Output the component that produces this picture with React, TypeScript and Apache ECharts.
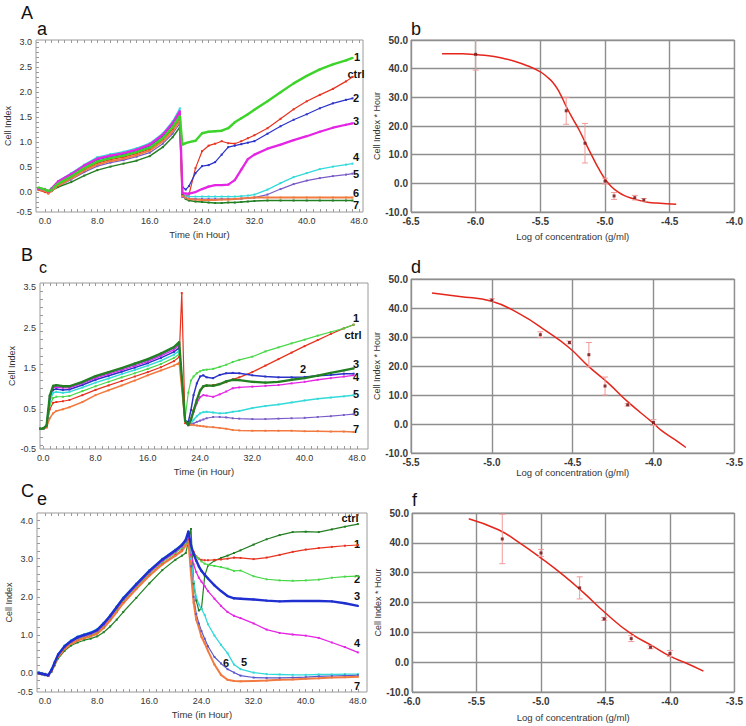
import React, { useEffect, useRef } from "react";
import * as echarts from "echarts";

// ---------- Panel a (A) ----------
const aTime = [-1, 0, 0.5, 1, 2, 4, 6, 8, 10, 12, 14, 16, 18, 19.5, 20.6, 21.0, 21.5, 22, 23, 24, 25, 26, 27, 28, 29, 30, 31, 32, 34, 36, 38, 40, 42, 44, 46, 47];
const aCtrl = [0.04, 0.0, -0.03, 0.03, 0.15, 0.29, 0.45, 0.58, 0.65, 0.70, 0.77, 0.86, 1.05, 1.26, 1.47, -0.05, -0.08, -0.05, 0.48, 0.82, 0.93, 0.97, 1.02, 0.98, 0.97, 1.02, 1.08, 1.14, 1.28, 1.47, 1.66, 1.82, 1.95, 2.07, 2.22, 2.31];
const aS1 = [0.09, 0.05, 0.02, 0.05, 0.17, 0.31, 0.48, 0.61, 0.68, 0.73, 0.80, 0.89, 1.08, 1.30, 1.52, 0.95, 0.98, 1.00, 1.03, 1.18, 1.21, 1.22, 1.23, 1.28, 1.40, 1.48, 1.56, 1.65, 1.82, 2.00, 2.18, 2.33, 2.46, 2.56, 2.64, 2.69];
const aS2 = [0.07, 0.04, 0.0, 0.06, 0.19, 0.34, 0.51, 0.65, 0.71, 0.76, 0.83, 0.92, 1.12, 1.35, 1.58, 0.10, 0.05, 0.12, 0.38, 0.52, 0.54, 0.60, 0.75, 0.90, 0.93, 0.96, 0.99, 1.02, 1.17, 1.32, 1.45, 1.56, 1.68, 1.78, 1.85, 1.88];
const aS3 = [0.07, 0.05, 0.01, 0.07, 0.21, 0.36, 0.53, 0.67, 0.73, 0.78, 0.85, 0.95, 1.15, 1.38, 1.62, -0.02, -0.03, -0.03, 0.0, 0.06, 0.11, 0.14, 0.14, 0.15, 0.24, 0.45, 0.66, 0.75, 0.87, 0.95, 1.04, 1.12, 1.21, 1.29, 1.35, 1.38];
const aS4 = [0.08, 0.06, 0.02, 0.08, 0.22, 0.38, 0.55, 0.70, 0.76, 0.81, 0.88, 0.98, 1.18, 1.42, 1.68, -0.07, -0.08, -0.09, -0.09, -0.09, -0.09, -0.09, -0.09, -0.09, -0.09, -0.08, -0.07, -0.05, 0.05, 0.18, 0.30, 0.38, 0.46, 0.51, 0.55, 0.57];
const aS5 = [0.06, 0.03, 0.0, 0.02, 0.12, 0.25, 0.40, 0.52, 0.59, 0.64, 0.71, 0.79, 0.97, 1.17, 1.38, -0.10, -0.12, -0.13, -0.14, -0.14, -0.14, -0.14, -0.14, -0.14, -0.14, -0.13, -0.12, -0.11, -0.05, 0.06, 0.16, 0.23, 0.28, 0.32, 0.35, 0.37];
const aS6 = [0.05, 0.02, -0.02, 0.02, 0.13, 0.27, 0.43, 0.55, 0.62, 0.67, 0.74, 0.83, 1.02, 1.22, 1.43, -0.08, -0.12, -0.14, -0.15, -0.16, -0.16, -0.16, -0.15, -0.15, -0.14, -0.13, -0.12, -0.11, -0.11, -0.11, -0.11, -0.11, -0.11, -0.11, -0.11, -0.11];
const aS7 = [0.08, 0.06, 0.02, 0.03, 0.10, 0.20, 0.33, 0.44, 0.51, 0.57, 0.63, 0.72, 0.90, 1.10, 1.30, -0.05, -0.14, -0.17, -0.19, -0.20, -0.21, -0.22, -0.22, -0.21, -0.21, -0.20, -0.19, -0.18, -0.17, -0.17, -0.17, -0.17, -0.17, -0.17, -0.17, -0.17];

// ---------- Panel c (B) ----------
const cTime = [-0.5, 0, 0.5, 1, 1.5, 2, 3, 4, 6, 8, 10, 12, 14, 16, 18, 20, 20.8, 21.2, 21.7, 22.2, 22.6, 23, 23.5, 24, 24.5, 25, 26, 27, 28, 29, 30, 32, 34, 36, 38, 40, 42, 44, 46, 47.5];
const cCtrl = [0.0, 0.0, 0.04, 0.48, 0.64, 0.66, 0.68, 0.71, 0.83, 0.96, 1.07, 1.18, 1.29, 1.40, 1.52, 1.67, 1.77, 3.35, 0.14, 0.09, 0.25, 0.46, 0.71, 0.94, 1.04, 1.06, 1.08, 1.11, 1.15, 1.22, 1.27, 1.40, 1.56, 1.72, 1.88, 2.04, 2.19, 2.34, 2.48, 2.57];
const cS1 = [0.0, 0.0, 0.05, 0.58, 0.76, 0.79, 0.79, 0.81, 0.93, 1.05, 1.16, 1.27, 1.37, 1.48, 1.60, 1.75, 1.84, null, 0.25, 0.89, 1.19, 1.29, 1.37, 1.42, 1.45, 1.46, 1.48, 1.53, 1.58, 1.65, 1.70, 1.78, 1.91, 2.01, 2.11, 2.20, 2.30, 2.39, 2.48, 2.57];
const cS2 = [0.0, 0.0, 0.06, 0.74, 0.96, 0.98, 0.96, 0.97, 1.08, 1.21, 1.31, 1.41, 1.51, 1.62, 1.75, 1.90, 2.00, null, 0.20, 0.17, 0.46, 0.83, 1.12, 1.29, 1.32, 1.27, 1.25, 1.33, 1.37, 1.38, 1.37, 1.32, 1.29, 1.27, 1.27, 1.28, 1.31, 1.33, 1.36, 1.36];
const cS3 = [0.0, 0.01, 0.08, 0.82, 1.06, 1.08, 1.05, 1.05, 1.16, 1.30, 1.40, 1.50, 1.61, 1.72, 1.86, 2.02, 2.14, null, 0.20, 0.09, 0.22, 0.44, 0.71, 0.94, 1.05, 1.07, 1.06, 1.10, 1.17, 1.21, 1.20, 1.16, 1.14, 1.16, 1.21, 1.25, 1.31, 1.38, 1.44, 1.49];
const cS4 = [0.0, 0.01, 0.07, 0.78, 1.01, 1.03, 1.01, 1.01, 1.12, 1.25, 1.35, 1.45, 1.55, 1.66, 1.80, 1.95, 2.06, null, 0.20, 0.09, 0.22, 0.41, 0.63, 0.78, 0.83, 0.82, 0.79, 0.85, 0.92, 1.00, 1.02, 1.04, 1.06, 1.08, 1.12, 1.16, 1.21, 1.25, 1.29, 1.32];
const cS5 = [0.0, 0.0, 0.06, 0.68, 0.89, 0.91, 0.89, 0.91, 1.02, 1.14, 1.24, 1.35, 1.45, 1.56, 1.68, 1.83, 1.93, null, 0.17, 0.09, 0.13, 0.22, 0.31, 0.38, 0.41, 0.42, 0.40, 0.38, 0.39, 0.42, 0.44, 0.51, 0.56, 0.60, 0.65, 0.70, 0.74, 0.77, 0.80, 0.83];
const cS6 = [0.0, 0.01, 0.08, 0.81, 1.04, 1.06, 1.04, 1.04, 1.14, 1.28, 1.38, 1.48, 1.58, 1.69, 1.83, 1.99, 2.10, null, 0.17, 0.09, 0.11, 0.13, 0.17, 0.20, 0.23, 0.26, 0.29, 0.29, 0.28, 0.26, 0.25, 0.24, 0.24, 0.25, 0.26, 0.27, 0.29, 0.31, 0.34, 0.36];
const cS7 = [0.0, 0.0, 0.03, 0.26, 0.38, 0.44, 0.48, 0.53, 0.66, 0.83, 0.95, 1.07, 1.19, 1.32, 1.44, 1.56, 1.63, null, 0.17, 0.12, 0.10, 0.09, 0.08, 0.07, 0.06, 0.05, 0.04, 0.02, 0.0, -0.03, -0.04, -0.05, -0.05, -0.05, -0.05, -0.06, -0.06, -0.07, -0.07, -0.08];

// ---------- Panel e (C) ----------
const eTime = [-1, -0.5, 0, 0.5, 1, 1.5, 2, 3, 4, 5, 6, 7, 8, 9, 10, 11, 12, 14, 16, 18, 20, 21, 21.6, 22.0, 22.4, 22.8, 23.2, 23.6, 24, 24.5, 25, 26, 27, 28, 29, 30, 32, 34, 36, 38, 40, 42, 44, 46, 48];
const eCtrl = [-0.02, -0.04, -0.06, -0.08, 0.03, 0.20, 0.38, 0.58, 0.72, 0.80, 0.86, 0.90, 0.96, 1.07, 1.22, 1.40, 1.60, 1.97, 2.35, 2.70, 2.97, 3.08, 3.15, 3.45, 3.78, 2.35, 1.90, 1.64, 1.68, 2.55, 2.82, 2.95, 3.02, 3.08, 3.15, 3.22, 3.37, 3.51, 3.62, 3.70, 3.71, 3.70, 3.77, 3.84, 3.91];
const eS1 = [-0.01, -0.03, -0.05, -0.07, 0.05, 0.24, 0.43, 0.64, 0.78, 0.87, 0.93, 0.98, 1.05, 1.20, 1.40, 1.62, 1.85, 2.22, 2.57, 2.87, 3.10, 3.22, 3.42, 3.50, 3.30, 3.18, 3.06, 3.00, 2.97, 2.96, 2.96, 2.97, 2.98, 3.00, 3.03, 3.02, 2.99, 3.03, 3.10, 3.18, 3.24, 3.28, 3.31, 3.34, 3.36];
const eS2 = [0.02, 0.0, -0.02, -0.05, 0.07, 0.26, 0.45, 0.66, 0.80, 0.89, 0.95, 1.00, 1.08, 1.24, 1.44, 1.66, 1.89, 2.26, 2.61, 2.91, 3.15, 3.28, 3.40, 3.55, 3.28, 3.12, 3.05, 3.00, 2.93, 2.87, 2.84, 2.81, 2.78, 2.74, 2.68, 2.69, 2.54, 2.46, 2.43, 2.42, 2.43, 2.45, 2.50, 2.53, 2.54];
const eS3 = [0.0, -0.02, -0.04, -0.06, 0.08, 0.28, 0.48, 0.70, 0.84, 0.94, 1.00, 1.05, 1.13, 1.30, 1.50, 1.73, 1.96, 2.33, 2.68, 2.98, 3.22, 3.36, 3.50, 3.72, 3.35, 3.12, 2.95, 2.80, 2.68, 2.58, 2.48, 2.30, 2.15, 2.02, 1.96, 1.95, 1.93, 1.90, 1.88, 1.89, 1.89, 1.89, 1.88, 1.83, 1.76];
const eS4 = [0.0, -0.02, -0.04, -0.07, 0.06, 0.26, 0.46, 0.67, 0.81, 0.91, 0.97, 1.02, 1.10, 1.26, 1.46, 1.69, 1.92, 2.29, 2.64, 2.94, 3.18, 3.32, 3.45, 3.55, 3.10, 2.85, 2.65, 2.50, 2.40, 2.28, 2.15, 1.95, 1.76, 1.60, 1.50, 1.44, 1.30, 1.14, 1.05, 1.01, 0.98, 0.92, 0.80, 0.68, 0.54];
const eS5 = [0.02, 0.0, -0.03, -0.05, 0.10, 0.30, 0.50, 0.72, 0.86, 0.96, 1.02, 1.07, 1.15, 1.32, 1.52, 1.75, 1.98, 2.35, 2.70, 3.00, 3.24, 3.38, 3.45, 3.60, 3.00, 2.40, 2.00, 1.80, 1.68, 1.52, 1.28, 0.98, 0.74, 0.52, 0.22, 0.10, 0.01, -0.03, -0.04, -0.05, -0.05, -0.04, -0.04, -0.03, -0.03];
const eS6 = [0.01, -0.01, -0.03, -0.06, 0.07, 0.27, 0.47, 0.68, 0.82, 0.92, 0.98, 1.03, 1.11, 1.28, 1.48, 1.71, 1.94, 2.31, 2.66, 2.96, 3.20, 3.34, 3.45, 3.60, 2.80, 2.00, 1.55, 1.30, 1.10, 0.90, 0.70, 0.42, 0.25, 0.10, 0.01, -0.07, -0.12, -0.13, -0.13, -0.12, -0.11, -0.09, -0.08, -0.07, -0.06];
const eS7 = [0.0, -0.02, -0.04, -0.06, 0.05, 0.23, 0.42, 0.62, 0.76, 0.85, 0.91, 0.96, 1.03, 1.18, 1.38, 1.60, 1.83, 2.20, 2.55, 2.85, 3.08, 3.20, 3.35, 3.45, 2.60, 1.85, 1.40, 1.20, 0.95, 0.78, 0.58, 0.22, -0.05, -0.18, -0.21, -0.22, -0.21, -0.20, -0.18, -0.17, -0.15, -0.14, -0.12, -0.11, -0.10];

// ---------- Dose-response panels ----------
const bCurveX = [-6.26, -6.1, -6.0, -5.9, -5.8, -5.7, -5.6, -5.5, -5.45, -5.4, -5.35, -5.3, -5.25, -5.2, -5.15, -5.1, -5.05, -5.0, -4.95, -4.9, -4.85, -4.8, -4.7, -4.6, -4.45];
const bCurveY = [45.2, 45.2, 44.9, 44.5, 43.7, 42.6, 41.0, 38.9, 37.2, 35.0, 31.5, 26.8, 22.6, 18.6, 14.0, 9.5, 5.2, 1.5, -1.2, -3.0, -4.3, -5.1, -6.3, -6.9, -7.3];
const bPtX = [-6.0, -5.3, -5.155, -5.0, -4.93, -4.77, -4.70];
const bPtY = [45.0, 25.3, 14.0, 0.8, -4.4, -5.0, -5.8];
const bPtErr = [5.5, 4.7, 6.9, 1.0, 1.2, 0.8, 0.5];

const dCurveX = [-5.37, -5.2, -5.0, -4.82, -4.66, -4.52, -4.4, -4.28, -4.16, -4.0, -3.95, -3.87, -3.8];
const dCurveY = [45.2, 44.0, 42.3, 37.7, 31.9, 26.2, 19.8, 14.1, 7.7, 0.2, -2.3, -5.3, -8.1];
const dPtX = [-5.0, -4.7, -4.52, -4.4, -4.3, -4.16, -4.0];
const dPtY = [42.7, 30.8, 28.1, 23.9, 13.1, 6.6, 0.5];
const dPtErr = [0.5, 1.0, 0.5, 4.2, 3.1, 0.4, 1.0];

const fCurveX = [-5.56, -5.33, -5.18, -5.0, -4.82, -4.67, -4.5, -4.31, -4.13, -4.0, -3.88, -3.74];
const fCurveY = [48.1, 44.4, 40.4, 34.9, 28.9, 23.3, 16.5, 9.8, 5.3, 2.0, -0.2, -3.0];
const fPtX = [-5.3, -5.0, -4.7, -4.51, -4.3, -4.15, -4.0];
const fPtY = [41.3, 36.6, 24.9, 14.5, 7.9, 5.0, 2.9];
const fPtErr = [8.3, 1.2, 3.7, 0.5, 1.0, 0.5, 1.0];

// ---------- Tick labels ----------
const timeLabels = [0, 8, 16, 24, 32, 40, 48];
const aYLabels = [-0.4, 0, 0.5, 1, 1.5, 2, 2.5, 3];
const cYLabels = [-0.5, 0.5, 1.5, 2.5, 3.5];
const eYLabels = [-0.5, 0, 1, 2, 3, 4];
const bottomLabelText = "-0.5";

const FONT = "Liberation Sans";

function steps(from: number, to: number, step: number) {
  const out: number[] = [];
  const n = Math.round((to - from) / step);
  for (let i = 0; i <= n; i++) out.push(Math.round((from + i * step) * 1000) / 1000);
  return out;
}

function pairs(xs: number[], ys: (number | null)[]) {
  return xs.map((x, i) => [x, ys[i]]);
}

function leftX(grid: number, min: number, max: number, top = false) {
  const ticks = steps(0, 48, 1).filter((v) => v > min && v < max);
  return {
    type: "value",
    gridIndex: grid,
    min,
    max,
    position: top ? "top" : "bottom",
    axisLine: { show: false, onZero: false },
    axisTick: { show: true, inside: true, length: 3, customValues: ticks, lineStyle: { color: "#9a9a9a" } },
    axisLabel: top
      ? { show: false }
      : { customValues: timeLabels, formatter: (v: number) => v.toFixed(1), fontSize: 9, color: "#333", margin: 4, fontFamily: FONT },
    splitLine: { show: false },
    ...(top
      ? {}
      : { name: "Time (in Hour)", nameLocation: "middle", nameGap: 17, nameTextStyle: { fontSize: 9.5, color: "#333", fontFamily: FONT } }),
  };
}

function leftY(grid: number, min: number, max: number, labels: number[], tickStep: number) {
  const ticks = steps(Math.ceil(min / tickStep) * tickStep, Math.floor(max / tickStep) * tickStep, tickStep).filter(
    (v) => v > min && v < max
  );
  return {
    type: "value",
    gridIndex: grid,
    min,
    max,
    position: "left",
    axisLine: { show: false, onZero: false },
    axisTick: { show: true, inside: true, length: 3, customValues: ticks, lineStyle: { color: "#9a9a9a" } },
    axisLabel: {
      customValues: labels,
      formatter: (v: number) => (v <= min + 1e-6 ? bottomLabelText : v.toFixed(1)),
      fontSize: 9,
      color: "#333",
      margin: 4,
      fontFamily: FONT,
    },
    splitLine: { show: false },
    name: "Cell Index",
    nameLocation: "middle",
    nameGap: 20,
    nameTextStyle: { fontSize: 9, color: "#333", fontFamily: FONT },
  };
}

function rightX(grid: number, min: number, max: number, gap: number) {
  return {
    type: "value",
    gridIndex: grid,
    min,
    max,
    interval: 0.5,
    axisLine: { show: false, onZero: false },
    axisTick: { show: false },
    axisLabel: { formatter: (v: number) => v.toFixed(1), fontSize: 10, fontWeight: "bold", color: "#3a3a3a", margin: 4, fontFamily: FONT },
    splitLine: { show: true, lineStyle: { color: "#8e8e8e", width: 1.4 } },
    name: "Log of concentration (g/ml)",
    nameLocation: "middle",
    nameGap: gap,
    nameTextStyle: { fontSize: 9.5, color: "#333", fontFamily: FONT },
  };
}

function rightY(grid: number) {
  return {
    type: "value",
    gridIndex: grid,
    min: -10,
    max: 50,
    interval: 10,
    position: "left",
    axisLine: { show: false, onZero: false },
    axisTick: { show: false },
    axisLabel: { formatter: (v: number) => v.toFixed(1), fontSize: 10, fontWeight: "bold", color: "#3a3a3a", margin: 3, fontFamily: FONT },
    splitLine: { show: true, lineStyle: { color: "#8e8e8e", width: 1.4 } },
    name: "Cell Index * Hour",
    nameLocation: "middle",
    nameGap: 26,
    nameTextStyle: { fontSize: 9, color: "#333", fontFamily: FONT },
  };
}

function timeLine(axis: number, xs: number[], ys: (number | null)[], color: string, width: number) {
  return {
    type: "line",
    xAxisIndex: axis,
    yAxisIndex: axis,
    data: pairs(xs, ys),
    symbol: "rect",
    symbolSize: 2,
    showSymbol: true,
    connectNulls: true,
    silent: true,
    lineStyle: { color, width },
    itemStyle: { color },
    z: width > 2 ? 4 : 3,
  };
}

function doseSeries(axis: number, cx: number[], cy: number[], px: number[], py: number[], pe: number[]) {
  return [
    {
      type: "line",
      xAxisIndex: axis,
      yAxisIndex: axis,
      data: pairs(cx, cy),
      smooth: true,
      showSymbol: false,
      silent: true,
      lineStyle: { color: "#e4261c", width: 1.5 },
      z: 3,
    },
    {
      type: "custom",
      xAxisIndex: axis,
      yAxisIndex: axis,
      data: px.map((x, i) => [x, py[i], pe[i]]),
      encode: { x: 0, y: 1 },
      clip: true,
      silent: true,
      z: 4,
      renderItem: (_p: any, api: any) => {
        const x = api.value(0);
        const y = api.value(1);
        const e = api.value(2);
        const t = api.coord([x, y + e]);
        const b = api.coord([x, y - e]);
        const style = { stroke: "#f19a9a", lineWidth: 1 };
        return {
          type: "group",
          children: [
            { type: "line", shape: { x1: t[0], y1: t[1], x2: b[0], y2: b[1] }, style },
            { type: "line", shape: { x1: t[0] - 3, y1: t[1], x2: t[0] + 3, y2: t[1] }, style },
            { type: "line", shape: { x1: b[0] - 3, y1: b[1], x2: b[0] + 3, y2: b[1] }, style },
          ],
        };
      },
    },
    {
      type: "scatter",
      xAxisIndex: axis,
      yAxisIndex: axis,
      data: pairs(px, py),
      symbol: "rect",
      symbolSize: 3,
      silent: true,
      itemStyle: { color: "#6a1010" },
      z: 5,
    },
  ];
}

function txt(text: string, x: number, y: number, size: number, bold = false, align = "center") {
  return {
    type: "text",
    x,
    y,
    silent: true,
    style: {
      text,
      fill: "#111",
      font: `${bold ? "bold " : ""}${size}px "${FONT}"`,
      textAlign: align,
      textVerticalAlign: "middle",
    },
  };
}

const C = {
  green: "#3cd42a",
  lgreen: "#48d848",
  red: "#e8321e",
  blue: "#2a32c8",
  magenta: "#e426e4",
  cyan: "#34dada",
  purple: "#7a5cc8",
  orange: "#f27a40",
  dgreen: "#227f22",
};

function buildOption() {
  const grids = [
    { left: 36, top: 40, width: 327, height: 172 },
    { left: 411, top: 40, width: 327, height: 172 },
    { left: 40, top: 283, width: 328, height: 166 },
    { left: 411, top: 279, width: 329, height: 174 },
    { left: 37, top: 513, width: 330, height: 179 },
    { left: 412, top: 513, width: 327, height: 179 },
  ].map((g) => ({ ...g, show: true, borderColor: "#9a9a9a", borderWidth: 1, backgroundColor: "#fff" }));

  const xAxis = [
    leftX(0, -1.38, 48.6),
    rightX(1, -6.5, -4.0, 19),
    leftX(2, -0.5, 49.7),
    rightX(3, -5.5, -3.5, 14),
    leftX(4, -1.23, 49.4),
    rightX(5, -6.0, -3.5, 20),
    leftX(0, -1.38, 48.6, true),
    leftX(2, -0.5, 49.7, true),
    leftX(4, -1.23, 49.4, true),
  ];
  const yAxis = [
    leftY(0, -0.4, 3.05, aYLabels, 0.1),
    rightY(1),
    leftY(2, -0.5, 3.6, cYLabels, 0.2),
    rightY(3),
    leftY(4, -0.5, 4.2, eYLabels, 0.2),
    rightY(5),
  ];

  const series: any[] = [
    timeLine(0, aTime, aCtrl, C.red, 1.2),
    timeLine(0, aTime, aS2, C.blue, 1.2),
    timeLine(0, aTime, aS4, C.cyan, 1.3),
    timeLine(0, aTime, aS5, C.purple, 1.2),
    timeLine(0, aTime, aS7, C.dgreen, 1.5),
    timeLine(0, aTime, aS6, C.orange, 2.0),
    timeLine(0, aTime, aS3, C.magenta, 2.3),
    timeLine(0, aTime, aS1, C.green, 2.4),

    timeLine(2, cTime, cCtrl, C.red, 1.2),
    timeLine(2, cTime, cS1, C.lgreen, 1.2),
    timeLine(2, cTime, cS2, C.blue, 1.5),
    timeLine(2, cTime, cS4, C.magenta, 1.3),
    timeLine(2, cTime, cS5, C.cyan, 1.5),
    timeLine(2, cTime, cS6, C.purple, 1.2),
    timeLine(2, cTime, cS7, C.orange, 1.5),
    timeLine(2, cTime, cS3, C.dgreen, 2.3),

    timeLine(4, eTime, eCtrl, C.dgreen, 1.2),
    timeLine(4, eTime, eS1, C.red, 1.2),
    timeLine(4, eTime, eS2, C.lgreen, 1.2),
    timeLine(4, eTime, eS4, C.magenta, 1.3),
    timeLine(4, eTime, eS5, C.cyan, 1.3),
    timeLine(4, eTime, eS6, "#5a58cc", 1.2),
    timeLine(4, eTime, eS7, C.orange, 2.0),
    timeLine(4, eTime, eS3, "#1f2fd0", 2.4),

    ...doseSeries(1, bCurveX, bCurveY, bPtX, bPtY, bPtErr),
    ...doseSeries(3, dCurveX, dCurveY, dPtX, dPtY, dPtErr),
    ...doseSeries(5, fCurveX, fCurveY, fPtX, fPtY, fPtErr),
  ];

  const graphic = [
    txt("A", 21, 13, 18, false, "left"),
    txt("a", 37, 28.5, 18, false, "left"),
    txt("b", 411, 28.5, 18, false, "left"),
    txt("B", 21, 255, 18, false, "left"),
    txt("c", 39, 267.5, 16, false, "left"),
    txt("d", 411, 267, 18, false, "left"),
    txt("C", 21, 491, 18, false, "left"),
    txt("e", 37, 498.5, 18, false, "left"),
    txt("f", 412, 499.5, 18, false, "left"),

    txt("1", 357, 57, 11, true),
    txt("ctrl", 356, 74, 11, true),
    txt("2", 356, 98, 11, true),
    txt("3", 356, 121, 11, true),
    txt("4", 356, 157, 11, true),
    txt("5", 356, 174, 11, true),
    txt("6", 356, 193, 11, true),
    txt("7", 356, 205, 11, true),

    txt("1", 356, 318, 11, true),
    txt("ctrl", 353, 335, 11, true),
    txt("2", 303, 369, 11, true),
    txt("3", 356, 364, 11, true),
    txt("4", 356, 377, 11, true),
    txt("5", 356, 394, 11, true),
    txt("6", 356, 412, 11, true),
    txt("7", 356, 429, 11, true),

    txt("ctrl", 350, 518, 11, true),
    txt("1", 357, 544, 11, true),
    txt("2", 357, 579, 11, true),
    txt("3", 357, 596, 11, true),
    txt("4", 357, 643, 11, true),
    txt("6", 226, 663, 11, true),
    txt("5", 244, 662, 11, true),
    txt("7", 357, 686, 11, true),
  ];

  return {
    animation: false,
    backgroundColor: "#ffffff",
    textStyle: { fontFamily: FONT },
    grid: grids,
    xAxis,
    yAxis,
    series,
    graphic,
  };
}

export default function App() {
  const ref = useRef<HTMLDivElement>(null);
  useEffect(() => {
    if (!ref.current) return;
    const chart = echarts.init(ref.current, null, { renderer: "svg" });
    chart.setOption(buildOption() as any);
    return () => chart.dispose();
  }, []);
  return (
    <div
      ref={ref}
      style={{ position: "fixed", left: 0, top: 0, width: 746, height: 726, background: "#fff" }}
    />
  );
}
